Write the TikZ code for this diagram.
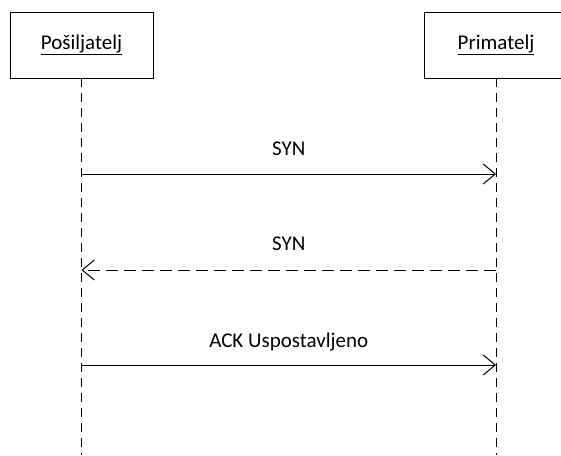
\documentclass[tikz,border=0pt]{standalone}
\usepackage{fontspec}
\setmainfont{Carlito}
\usetikzlibrary{arrows.meta}

\begin{document}
\begin{tikzpicture}[%
x=1pt, y=-1pt,
>={Straight Barb[length=12pt, width=20pt, line width=1pt]},
sudionik/.style={draw, line width=0.9pt, minimum width=143pt, minimum height=66pt, inner sep=0pt, font=\fontsize{21}{25}\selectfont},
zivotna/.style={line width=0.9pt, dash pattern=on 9pt off 6pt},
poruka/.style={->, line width=1pt},
odgovor/.style={->, line width=1pt, dash pattern=on 12pt off 6pt},
oznaka/.style={font=\fontsize{21}{25}\selectfont, anchor=base, inner sep=0pt},
]

\useasboundingbox (0,0) rectangle (561,455);
\clip (0,0) rectangle (561,455);

% sudionici
\node[sudionik] (posiljatelj) at (81.5,45) {\underline{Pošiljatelj}};
\node[sudionik] (primatelj) at (496,45) {\underline{Primatelj}};

% zivotne linije
\coordinate (posiljatelj kraj) at (posiljatelj.south |- 0,455);
\coordinate (primatelj kraj) at (primatelj.south |- 0,455);
\draw[zivotna] (posiljatelj.south)--(posiljatelj kraj);
\draw[zivotna] (primatelj.south)--(primatelj kraj);

% poruke
\coordinate (p1) at (posiljatelj.south |- 0,174);
\coordinate (q1) at (primatelj.south |- 0,174);
\coordinate (p2) at (posiljatelj.south |- 0,270);
\coordinate (q2) at (primatelj.south |- 0,270);
\coordinate (p3) at (posiljatelj.south |- 0,365);
\coordinate (q3) at (primatelj.south |- 0,365);

\draw[poruka] (p1)--(q1) node[oznaka, midway, yshift=19pt]{SYN};
\draw[odgovor] (q2)--(p2) node[oznaka, midway, yshift=20pt]{SYN};
\draw[poruka] (p3)--(q3) node[oznaka, midway, yshift=18pt]{ACK Uspostavljeno};

\end{tikzpicture}
\end{document}
